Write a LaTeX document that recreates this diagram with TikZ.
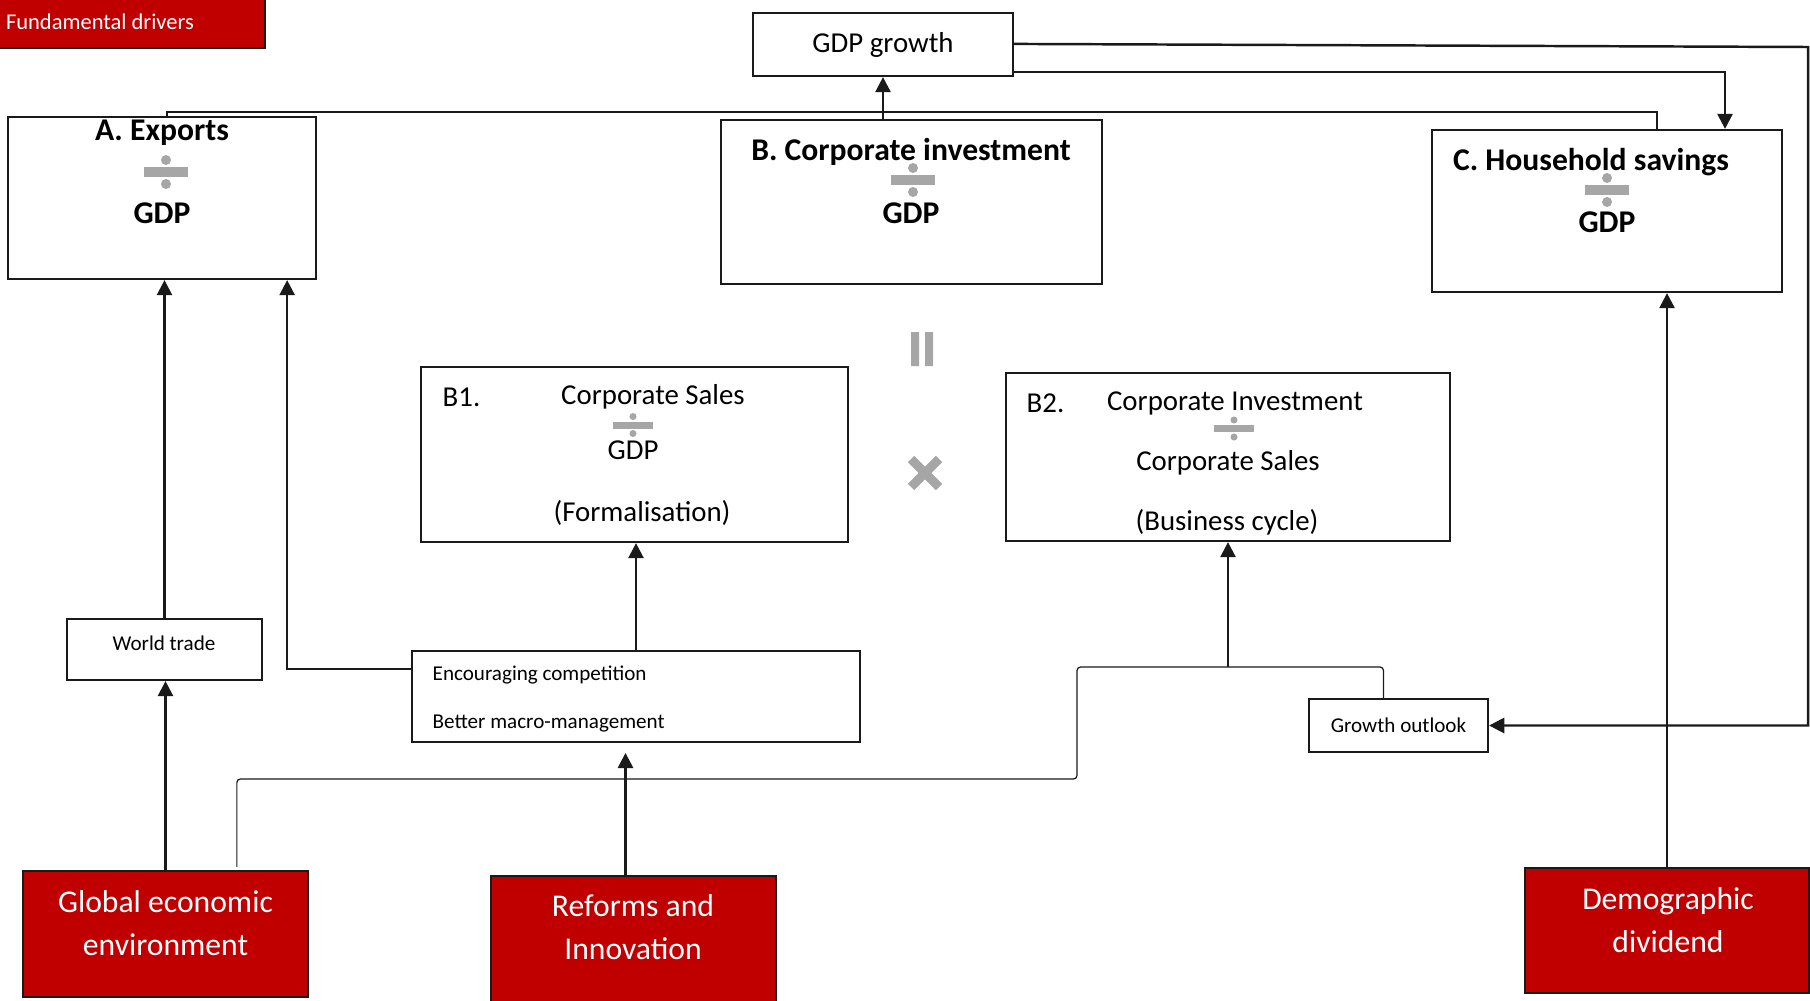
\documentclass[tikz,border=0pt]{standalone}
\usepackage{fontspec}
\setmainfont{Carlito}
\usepackage{tikz}
\usetikzlibrary{arrows.meta,calc}
\definecolor{ink}{HTML}{1A1A1A}
\definecolor{drvred}{HTML}{C00000}
\definecolor{opgray}{HTML}{A6A6A6}
\tikzset{>=Triangle,
  box/.style={draw=ink,line width=0.6pt,fill=white,inner sep=0pt},
  drv/.style={draw=ink,fill=drvred,line width=0.6pt,inner sep=0pt},
  drvtxt/.style={text=white,align=center,inner sep=0pt,font=\fontsize{9}{12.2}\selectfont},
  hd/.style={inner sep=0pt,font=\bfseries\fontsize{9}{11}\selectfont},
  txt/.style={inner sep=0pt,font=\fontsize{8.2}{10}\selectfont},
  sm/.style={inner sep=0pt,font=\fontsize{6}{7}\selectfont},
  arr/.style={draw=ink,line width=0.7pt,-{Triangle[length=4.3pt,width=4.3pt]}},
  link/.style={draw=ink,line width=0.35pt},
  bigdiv/.pic={\fill[opgray] (-22,-5) rectangle (22,5);
    \fill[opgray] (0,-12) circle[radius=1.42pt] (0,12) circle[radius=1.42pt];},
  smalldiv/.pic={\fill[opgray] (-20,-3.5) rectangle (20,3.5);
    \fill[opgray] (0,-8.5) circle[radius=1pt] (0,8.5) circle[radius=1pt];}}

\begin{document}
\begin{tikzpicture}[x=0.01cm,y=-0.01cm]
  \useasboundingbox (0,0) rectangle (1810,1000);
  % boxes
  \node[drv,minimum width=3.3cm,minimum height=0.52cm] (fd) at (100,22) {};
  \node[box,txt,minimum width=2.6cm,minimum height=0.63cm] (gdpg) at (883,44.5) {GDP growth};
  \node[box,minimum width=3.08cm,minimum height=1.62cm] (A) at (162,198) {};
  \node[box,minimum width=3.81cm,minimum height=1.64cm] (B) at (911.5,202) {};
  \node[box,minimum width=3.5cm,minimum height=1.62cm] (C) at (1607,211) {};
  \node[box,minimum width=4.27cm,minimum height=1.75cm] (B1) at (634.5,454.5) {};
  \node[box,minimum width=4.44cm,minimum height=1.68cm] (B2) at (1228,457) {};
  \node[box,minimum width=1.95cm,minimum height=0.61cm] (wt) at (164.5,649.5) {};
  \node[box,minimum width=4.48cm,minimum height=0.91cm] (enc) at (636,696.5) {};
  \node[box,sm,minimum width=1.79cm,minimum height=0.53cm] (go) at (1398.5,725.5) {Growth outlook};
  \node[drv,minimum width=2.85cm,minimum height=1.26cm] (gee) at (165.5,934) {};
  \node[drv,minimum width=2.85cm,minimum height=1.34cm] (ri) at (633.5,943) {};
  \node[drv,minimum width=2.84cm,minimum height=1.25cm] (dd) at (1667,930.5) {};
  % texts
  \node[drvtxt,font=\fontsize{6.4}{8}\selectfont] (fdtxt) at (100,22) {Fundamental drivers};
  \node[hd] (Ahd) at (162,133) {A. Exports};
  \node[hd] (Agdp) at (162,213) {GDP};
  \node[hd] (Bhd) at (911,152) {B. Corporate investment};
  \node[hd] (Bgdp) at (911,213) {GDP};
  \node[hd] (Chd) at (1591,162) {C. Household savings};
  \node[hd] (Cgdp) at (1607,222) {GDP};
  \node[txt,anchor=west] (B1id) at (442,397) {B1.};
  \node[txt] (B1num) at (653,397) {Corporate Sales};
  \node[txt] (B1den) at (633,450) {GDP};
  \node[txt] (B1note) at (642,513) {(Formalisation)};
  \node[txt,anchor=west] (B2id) at (1026,403) {B2.};
  \node[txt] (B2num) at (1235,403) {Corporate Investment};
  \node[txt] (B2den) at (1228,463) {Corporate Sales};
  \node[txt] (B2note) at (1227,522) {(Business cycle)};
  \node[sm] (wttxt) at (164,643) {World trade};
  \node[sm,anchor=west] (enc1) at (432,675) {Encouraging competition};
  \node[sm,anchor=west] (enc2) at (432,724) {Better macro-management};
  \node[drvtxt] (geetxt) at (165.5,923.5) {Global economic\\environment};
  \node[drvtxt] (ritxt) at (633,927.5) {Reforms and\\Innovation};
  \node[drvtxt] (ddtxt) at (1668,920) {Demographic\\dividend};
  % operators
  \pic at (166,172) {bigdiv};
  \pic at (913,180) {bigdiv};
  \pic at (1607,190) {bigdiv};
  \pic at (633,425) {smalldiv};
  \pic at (1234,428.5) {smalldiv};
  \fill[opgray] (911,332) rectangle (919,366) (925,332) rectangle (933,366);
  \draw[opgray,line width=2.55pt] (911,459) -- (939,487) (911,487) -- (939,459);
  % connectors
  \coordinate (rim) at (1808,47);
  \coordinate (split) at (1228,667);
  \coordinate (riTop) at ($(ri.north)+(-8,0)$);
  \draw[link] ($(A.north)+(5,0)$) -- ++(0,-4) -| ($(C.north)+(50,0)$);
  \draw[arr] (gdpg.south |- B.north) -- (gdpg.south);
  \draw[arr] ($(gdpg.south east)+(0,-5)$) -| ($(C.north)+(118,0)$);
  \draw[arr] ($(gdpg.north east)+(0,32)$) -- (rim) |- (go.east);
  \draw[arr] (wt.north) -- (wt.north |- A.south);
  \draw[arr] (gee.north) -- (gee.north |- wt.south);
  \draw[arr] ($(enc.north west)+(0,19)$) -| ($(A.south east)+(-30,0)$);
  \draw[arr] (enc.north) -- (enc.north |- B1.south);
  \draw[arr,shorten >=2.8pt] (riTop) -- (riTop |- enc.south);
  \draw[link,rounded corners=1pt] ($(gee.north west)+(215,-3)$) |- (1077,779) |- (split) -| ($(go.north)+(-15,0)$);
  \draw[arr] (split) -- (split |- B2.south);
  \draw[arr] (dd.north) -- (dd.north |- C.south);
\end{tikzpicture}
\end{document}
